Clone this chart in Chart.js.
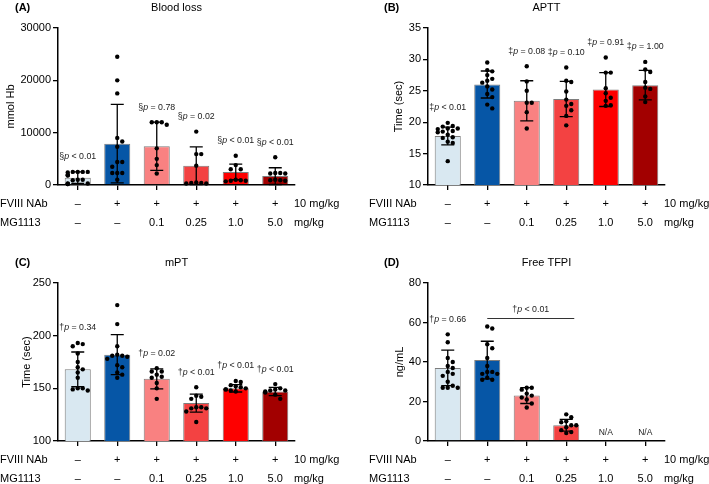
<!DOCTYPE html>
<html>
<head>
<meta charset="utf-8">
<script src="https://cdn.jsdelivr.net/npm/chart.js@4.4.0/dist/chart.umd.min.js"></script>
<style>
  body { margin: 0; background: #fff; width: 709px; height: 484px; position: relative; overflow: hidden; }
  .panel { position: absolute; }
</style>
</head>
<body>
<div class="panel" style="left:0;top:0;width:354px;height:255px"><canvas id="chartA"></canvas></div>
<div class="panel" style="left:354px;top:0;width:355px;height:255px"><canvas id="chartB"></canvas></div>
<div class="panel" style="left:0;top:255px;width:354px;height:229px"><canvas id="chartC"></canvas></div>
<div class="panel" style="left:354px;top:255px;width:355px;height:229px"><canvas id="chartD"></canvas></div>
<script>
const FONT = '"Liberation Sans", Arial, sans-serif';
Chart.defaults.font.family = FONT;
Chart.defaults.font.size = 11;
Chart.defaults.color = '#000';
Chart.defaults.animation = false;

// groups and the two table rows under each panel
const groups = ['Control', 'FVIII NAb', 'MG1113 0.1', 'MG1113 0.25', 'MG1113 1.0', 'MG1113 5.0'];
const fviiiRow = ['–', '+', '+', '+', '+', '+'];
const mgRow = ['–', '–', '0.1', '0.25', '1.0', '5.0'];
const groupColors = ['#d9e8f1', '#0656a6', '#f98181', '#f34242', '#fe0000', '#a20000'];

// (A) Blood loss
const bloodMean = [1400, 7900, 7400, 3700, 2500, 1700];
const bloodSD = [1100, 7500, 4600, 3600, 1500, 1600];
const bloodPts = [
  [2500, 2500, 2500, 2500, 2400, 1900, 1900, 1800, 1000, 900, 1000, 300, 300, 200, 200],
  [24500, 20000, 17500, 9000, 8300, 7300, 4400, 4400, 3500, 2300, 2300, 2300, 1000],
  [12000, 12000, 12000, 11500, 7000, 5000, 3800, 2200],
  [10200, 5900, 5900, 3700, 500, 400, 400, 300, 300],
  [5600, 3800, 3000, 3000, 1000, 900, 800, 800, 700],
  [5300, 2300, 2300, 2200, 2200, 1000, 900, 900, 800]
];
const bloodP = ['§p < 0.01', '', '§p = 0.78', '§p = 0.02', '§p < 0.01', '§p < 0.01'];

// (B) APTT
const apttMean = [17.8, 26.0, 23.4, 23.7, 25.2, 25.9];
const apttSD = [1.4, 2.15, 3.2, 2.8, 2.7, 2.35];
const apttPts = [
  [19.9, 19.4, 19.3, 19.0, 19.0, 18.9, 18.6, 18.5, 18.4, 18.0, 17.6, 17.5, 16.9, 16.7, 13.8],
  [29.5, 28.3, 28.1, 27.5, 26.9, 26.6, 26.3, 25.7, 25.2, 24.5, 24.0, 22.8, 22.2],
  [28.9, 26.5, 25.0, 23.1, 23.1, 21.6, 19.0],
  [28.7, 26.6, 26.4, 24.9, 23.6, 22.9, 22.6, 21.9, 21.0, 19.5],
  [30.3, 27.9, 27.9, 25.4, 24.6, 23.9, 23.4, 22.7, 22.6],
  [29.6, 28.4, 28.0, 26.4, 25.5, 25.3, 24.1, 23.2]
];
const apttP = ['‡p < 0.01', '', '‡p = 0.08', '‡p = 0.10', '‡p = 0.91', '‡p = 1.00'];

// (C) mPT
const mptMean = [168, 182, 159, 136, 150, 147];
const mptSD = [16.5, 19, 9.5, 8.5, 3.5, 4];
const mptPts = [
  [193, 192, 190, 183, 175, 170, 168, 165, 160, 150, 149, 148, 150],
  [229, 211, 190, 182, 181, 181, 180, 178, 172, 170, 165, 163, 160],
  [169, 166, 166, 163, 161, 160, 155, 150, 140],
  [151, 143, 142, 140, 132, 132, 131, 131, 128, 118],
  [157, 156, 153, 152, 151, 150, 149, 149, 148, 147],
  [154, 150, 149, 148, 148, 147, 146, 144, 140]
];
const mptP = ['†p = 0.34', '', '†p = 0.02', '†p < 0.01', '†p < 0.01', '†p < 0.01'];

// (D) Free TFPI (no data for the two highest doses)
const tfpiMean = [37, 41, 23, 8, null, null];
const tfpiSD = [9, 9.5, 4, 3, null, null];
const tfpiPts = [
  [54, 50, 42, 40, 38, 37, 35, 34, 33, 30, 28, 27, 27, 27],
  [58, 57, 49, 47, 42, 38, 35, 35, 34, 34, 32, 31, 31],
  [27, 27, 26, 24, 23, 22, 21, 19, 17],
  [13.5, 12, 10, 9.5, 8, 8, 7, 5.5, 4.5, 4],
  [],
  []
];
const tfpiP = ['†p = 0.66', '', '', '', '', ''];
const tfpiBracket = { from: 1, to: 3, value: 62, text: '†p < 0.01' };

function drawP(ctx, text, cx, cy) {
  const sym = text[0], rest = text.slice(2);
  const fn = '8.8px ' + FONT, fi = 'italic 8.8px ' + FONT;
  ctx.font = fn;
  const w1 = ctx.measureText(sym).width, w3 = ctx.measureText(rest).width;
  ctx.font = fi;
  const w2 = ctx.measureText('p').width;
  const x0 = cx - (w1 + w2 + w3) / 2;
  ctx.textAlign = 'left';
  ctx.textBaseline = 'middle';
  ctx.fillStyle = '#222';
  ctx.font = fn; ctx.fillText(sym, x0, cy);
  ctx.font = fi; ctx.fillText('p', x0 + w1, cy);
  ctx.font = fn; ctx.fillText(rest, x0 + w1 + w2, cy);
}

// simple swarm so equal values sit side by side, like the dot plot
function swarm(values, yScale, cx, d, half) {
  const placed = [];
  values.slice().sort((a, b) => b - a).forEach(v => {
    const py = yScale.getPixelForValue(v);
    let off = 0;
    for (let k = 0; k < 12; k++) {
      const c = k === 0 ? 0 : (k % 2 ? 1 : -1) * Math.ceil(k / 2) * d;
      if (Math.abs(c) > half) break;
      off = c;
      if (placed.every(q => Math.hypot(q.x - (cx + c), q.y - py) >= d)) break;
    }
    placed.push({ x: cx + off, y: py });
  });
  return placed;
}

function marksPlugin(p) {
  return {
    id: 'marks',
    afterDatasetsDraw(chart) {
      const { ctx, chartArea } = chart;
      const xs = chart.scales.x, ys = chart.scales.y;
      ctx.save();
      groups.forEach((g, i) => {
        const cx = xs.getPixelForValue(i);
        let top = chartArea.bottom;
        if (p.mean[i] != null) {
          const yHi = ys.getPixelForValue(p.mean[i] + p.sd[i]);
          const yLo = ys.getPixelForValue(Math.max(p.mean[i] - p.sd[i], ys.min));
          ctx.strokeStyle = '#000';
          ctx.lineWidth = 1.3;
          ctx.beginPath();
          ctx.moveTo(cx, yLo); ctx.lineTo(cx, yHi);
          ctx.moveTo(cx - 6.5, yHi); ctx.lineTo(cx + 6.5, yHi);
          if (p.mean[i] - p.sd[i] > ys.min) { ctx.moveTo(cx - 6.5, yLo); ctx.lineTo(cx + 6.5, yLo); }
          ctx.stroke();
          top = Math.min(top, yHi);
        }
        ctx.fillStyle = '#000';
        swarm(p.pts[i], ys, cx, 5, 12).forEach(q => {
          ctx.beginPath();
          ctx.arc(q.x, q.y, 2.2, 0, Math.PI * 2);
          ctx.fill();
          top = Math.min(top, q.y);
        });
        if (p.pText[i]) drawP(ctx, p.pText[i], cx, top - 15);
        if (p.mean[i] == null) {
          ctx.font = '8.5px ' + FONT;
          ctx.fillStyle = '#222';
          ctx.textAlign = 'center';
          ctx.textBaseline = 'middle';
          ctx.fillText('N/A', cx, chartArea.bottom - 8);
        }
      });
      if (p.bracket) {
        const b = p.bracket;
        const x1 = xs.getPixelForValue(b.from), x2 = xs.getPixelForValue(b.to) + 8;
        const yb = ys.getPixelForValue(b.value);
        ctx.strokeStyle = '#333';
        ctx.lineWidth = 1.1;
        ctx.beginPath(); ctx.moveTo(x1, yb); ctx.lineTo(x2, yb); ctx.stroke();
        drawP(ctx, b.text, (x1 + x2) / 2, yb - 9);
      }
      ctx.restore();
    },
    afterDraw(chart) {
      const { ctx, chartArea } = chart;
      const xs = chart.scales.x;
      ctx.save();
      ctx.fillStyle = '#000';
      ctx.textBaseline = 'middle';
      // panel letter and title
      ctx.font = 'bold 11px ' + FONT;
      ctx.textAlign = 'left';
      ctx.fillText(p.letter, p.letterX, 8);
      ctx.font = '11px ' + FONT;
      ctx.textAlign = 'center';
      ctx.fillText(p.title, (chartArea.left + chartArea.right) / 2, 8);
      // table rows
      const r1 = chartArea.bottom + 19, r2 = chartArea.bottom + 38;
      ctx.textAlign = 'left';
      ctx.fillText('FVIII NAb', p.rowX, r1);
      ctx.fillText('MG1113', p.rowX, r2);
      ctx.fillText('10 mg/kg', chartArea.right - 1, r1);
      ctx.fillText('mg/kg', chartArea.right - 1, r2);
      ctx.textAlign = 'center';
      groups.forEach((g, i) => {
        const cx = xs.getPixelForValue(i);
        ctx.fillText(fviiiRow[i], cx, r1);
        ctx.fillText(mgRow[i], cx, r2);
      });
      ctx.restore();
    }
  };
}

function makePanel(id, p) {
  new Chart(document.getElementById(id), {
    type: 'bar',
    data: {
      labels: groups,
      datasets: [{
        data: p.mean,
        backgroundColor: groupColors,
        borderColor: '#7d7d7d',
        borderWidth: 1,
        barPercentage: 0.66,
        categoryPercentage: 1
      }]
    },
    options: {
      responsive: true,
      maintainAspectRatio: false,
      animation: false,
      layout: { padding: { top: 28, right: p.padRight, left: 0, bottom: 0 } },
      plugins: { legend: { display: false }, tooltip: { enabled: false } },
      scales: {
        x: {
          offset: true,
          grid: { drawOnChartArea: false, offset: false, tickLength: 5, color: '#000', lineWidth: 1.3 },
          border: { color: '#000', width: 1.5 },
          ticks: { display: false },
          afterFit: s => { s.height = p.xHeight; }
        },
        y: {
          min: p.min, max: p.max,
          grid: { drawOnChartArea: false, tickLength: 5, color: '#000', lineWidth: 1.3 },
          border: { color: '#000', width: 1.5 },
          ticks: { stepSize: p.step, padding: 2, callback: v => String(v) },
          title: { display: true, text: p.yLabel, padding: { top: p.titlePad, bottom: 0 } },
          afterFit: s => { s.width = p.yWidth; }
        }
      }
    },
    plugins: [marksPlugin(p)]
  });
}

makePanel('chartA', {
  letter: '(A)', title: 'Blood loss', yLabel: 'mmol Hb',
  mean: bloodMean, sd: bloodSD, pts: bloodPts, pText: bloodP,
  min: 0, max: 30000, step: 10000,
  letterX: 15, rowX: 0, yWidth: 58, padRight: 59, xHeight: 70, titlePad: 4
});
makePanel('chartB', {
  letter: '(B)', title: 'APTT', yLabel: 'Time (sec)',
  mean: apttMean, sd: apttSD, pts: apttPts, pText: apttP,
  min: 10, max: 35, step: 5,
  letterX: 30, rowX: 15, yWidth: 74, padRight: 44, xHeight: 70, titlePad: 38
});
makePanel('chartC', {
  letter: '(C)', title: 'mPT', yLabel: 'Time (sec)',
  mean: mptMean, sd: mptSD, pts: mptPts, pText: mptP,
  min: 100, max: 250, step: 50,
  letterX: 15, rowX: 0, yWidth: 58, padRight: 59, xHeight: 43, titlePad: 20
});
makePanel('chartD', {
  letter: '(D)', title: 'Free TFPI', yLabel: 'ng/mL',
  mean: tfpiMean, sd: tfpiSD, pts: tfpiPts, pText: tfpiP, bracket: tfpiBracket,
  min: 0, max: 80, step: 20,
  letterX: 30, rowX: 15, yWidth: 74, padRight: 44, xHeight: 43, titlePad: 39
});
</script>
</body>
</html>
